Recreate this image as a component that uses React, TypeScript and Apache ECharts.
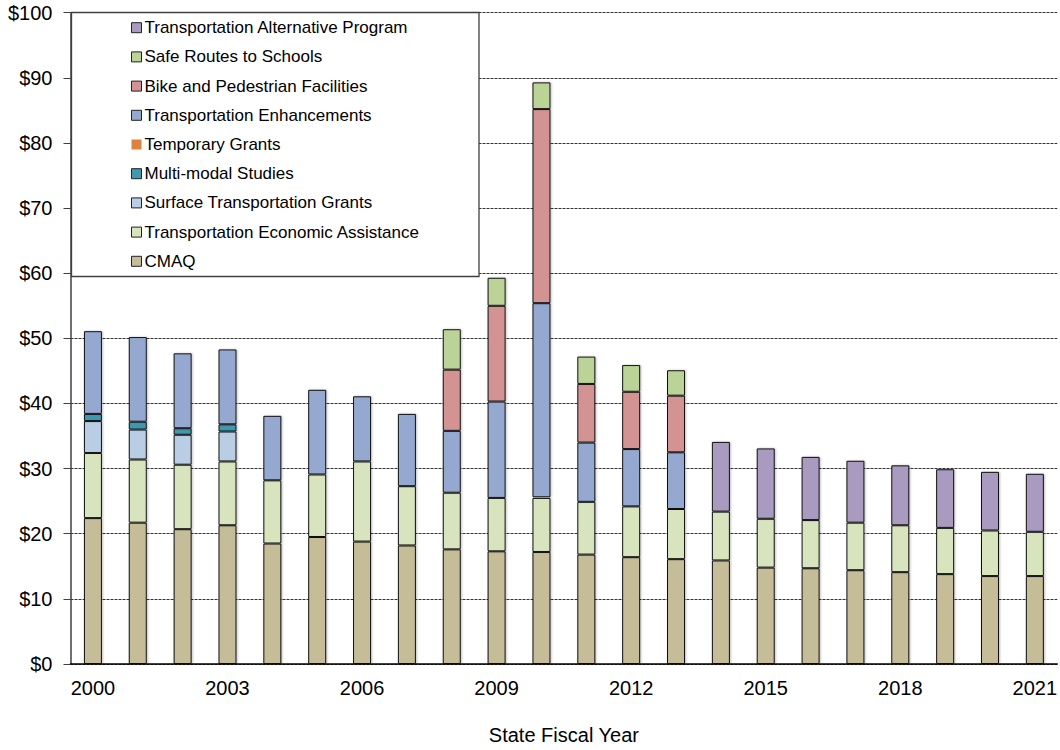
import React, { useEffect, useRef } from "react";
import * as echarts from "echarts";

const years = [
  "2000", "2001", "2002", "2003", "2004", "2005", "2006", "2007", "2008", "2009", "2010",
  "2011", "2012", "2013", "2014", "2015", "2016", "2017", "2018", "2019", "2020", "2021",
];

const yTickLabels = ["$0", "$10", "$20", "$30", "$40", "$50", "$60", "$70", "$80", "$90", "$100"];

const cmaq = [22.4, 21.7, 20.7, 21.3, 18.5, 19.5, 18.8, 18.2, 17.6, 17.3, 17.2, 16.8, 16.4, 16.1, 15.9, 14.8, 14.7, 14.4, 14.1, 13.8, 13.5, 13.5];
const econAssist = [10.0, 9.7, 9.9, 9.8, 9.7, 9.6, 12.3, 9.1, 8.7, 8.2, 8.3, 8.1, 7.8, 7.7, 7.5, 7.5, 7.4, 7.3, 7.2, 7.1, 7.0, 6.8];
const surfaceGrants = [4.9, 4.6, 4.6, 4.6, null, null, null, null, null, null, null, null, null, null, null, null, null, null, null, null, null, null];
const multiModal = [1.1, 1.2, 1.0, 1.1, null, null, null, null, null, null, null, null, null, null, null, null, null, null, null, null, null, null];
const temporaryGrants = [null, null, null, null, null, null, null, null, null, null, 0.1, null, null, null, null, null, null, null, null, null, null, null];
const enhancements = [12.7, 13.0, 11.5, 11.5, 9.9, 13.0, 10.0, 11.1, 9.5, 14.8, 29.8, 9.1, 8.8, 8.7, null, null, null, null, null, null, null, null];
const bikePed = [null, null, null, null, null, null, null, null, 9.4, 14.7, 29.8, 9.0, 8.8, 8.7, null, null, null, null, null, null, null, null];
const safeRoutes = [null, null, null, null, null, null, null, null, 6.2, 4.3, 4.1, 4.2, 4.1, 3.9, null, null, null, null, null, null, null, null];
const altProgram = [null, null, null, null, null, null, null, null, null, null, null, null, null, null, 10.7, 10.8, 9.7, 9.5, 9.2, 9.0, 9.0, 8.9];

const seriesDefs = [
  { name: "CMAQ", data: cmaq, color: "#C4BD97" },
  { name: "Transportation Economic Assistance", data: econAssist, color: "#D7E4BD" },
  { name: "Surface Transportation Grants", data: surfaceGrants, color: "#B9CDE5" },
  { name: "Multi-modal Studies", data: multiModal, color: "#4198AF" },
  { name: "Temporary Grants", data: temporaryGrants, color: "#E0823D" },
  { name: "Transportation Enhancements", data: enhancements, color: "#95A9D0" },
  { name: "Bike and Pedestrian Facilities", data: bikePed, color: "#D49393" },
  { name: "Safe Routes to Schools", data: safeRoutes, color: "#BCD398" },
  { name: "Transportation Alternative Program", data: altProgram, color: "#A99BBF" },
];

const FONT = "'Liberation Sans', Arial, sans-serif";

export default function App() {
  const ref = useRef<HTMLDivElement>(null);

  useEffect(() => {
    if (!ref.current) return;
    const chart = echarts.init(ref.current, null, { renderer: "svg" });
    const legendOrder = seriesDefs.map((s) => s.name).reverse();
    chart.setOption({
      animation: false,
      backgroundColor: "#ffffff",
      textStyle: { fontFamily: FONT },
      grid: { left: 70.5, right: -1.5, top: 12.7, bottom: 74, containLabel: false },
      graphic: [
        {
          type: "rect",
          z: 3,
          shape: { x: 71.5, y: 12.5, width: 407.5, height: 264 },
          style: { fill: "#ffffff", stroke: "#404040", lineWidth: 1.3 },
        },
      ],
      legend: {
        orient: "vertical",
        left: 131,
        top: 19.2,
        padding: 0,
        z: 5,
        selectedMode: false,
        itemWidth: 10,
        itemHeight: 10,
        itemGap: 12.2,
        icon: "rect",
        itemStyle: { borderColor: "#222", borderWidth: 1 },
        textStyle: { fontFamily: FONT, fontSize: 17, color: "#000", lineHeight: 17, padding: [0, 0, 0, -2] },
        data: legendOrder.map((n) =>
          n === "Temporary Grants" ? { name: n, itemStyle: { borderWidth: 0 } } : { name: n }
        ),
      },
      xAxis: {
        type: "category",
        data: years,
        name: "State Fiscal Year",
        nameLocation: "middle",
        nameGap: 61,
        nameTextStyle: { fontFamily: FONT, fontSize: 20, color: "#000" },
        axisLine: { lineStyle: { color: "#000", width: 1.5 } },
        axisTick: { show: false },
        axisLabel: {
          interval: (i: number) => i % 3 === 0,
          fontFamily: FONT,
          fontSize: 20,
          color: "#000",
          margin: 14,
        },
        splitLine: { show: false },
      },
      yAxis: {
        type: "value",
        min: 0,
        max: 100,
        interval: 10,
        axisLine: { show: true, lineStyle: { color: "#404040", width: 1.5 } },
        axisTick: { show: true, length: 7, lineStyle: { color: "#404040", width: 1 } },
        axisLabel: {
          fontFamily: FONT,
          fontSize: 20,
          color: "#000",
          margin: 18,
          formatter: (v: number) => yTickLabels[Math.round(v / 10)],
        },
        splitLine: { show: true, lineStyle: { color: "#333", width: 1, type: [3, 1] } },
      },
      series: seriesDefs.map((s) => ({
        name: s.name,
        type: "bar",
        stack: "total",
        barWidth: 18,
        data: s.data,
        itemStyle: {
          color: s.color,
          borderColor: "#111",
          borderWidth: 1,
          shadowColor: "rgba(0,0,0,0.25)",
          shadowBlur: 2,
          shadowOffsetX: 1,
          shadowOffsetY: 0,
        },
      })),
    });
    return () => chart.dispose();
  }, []);

  return (
    <div
      ref={ref}
      style={{ position: "fixed", left: 0, top: 0, width: 1060, height: 750, background: "#fff" }}
    />
  );
}
